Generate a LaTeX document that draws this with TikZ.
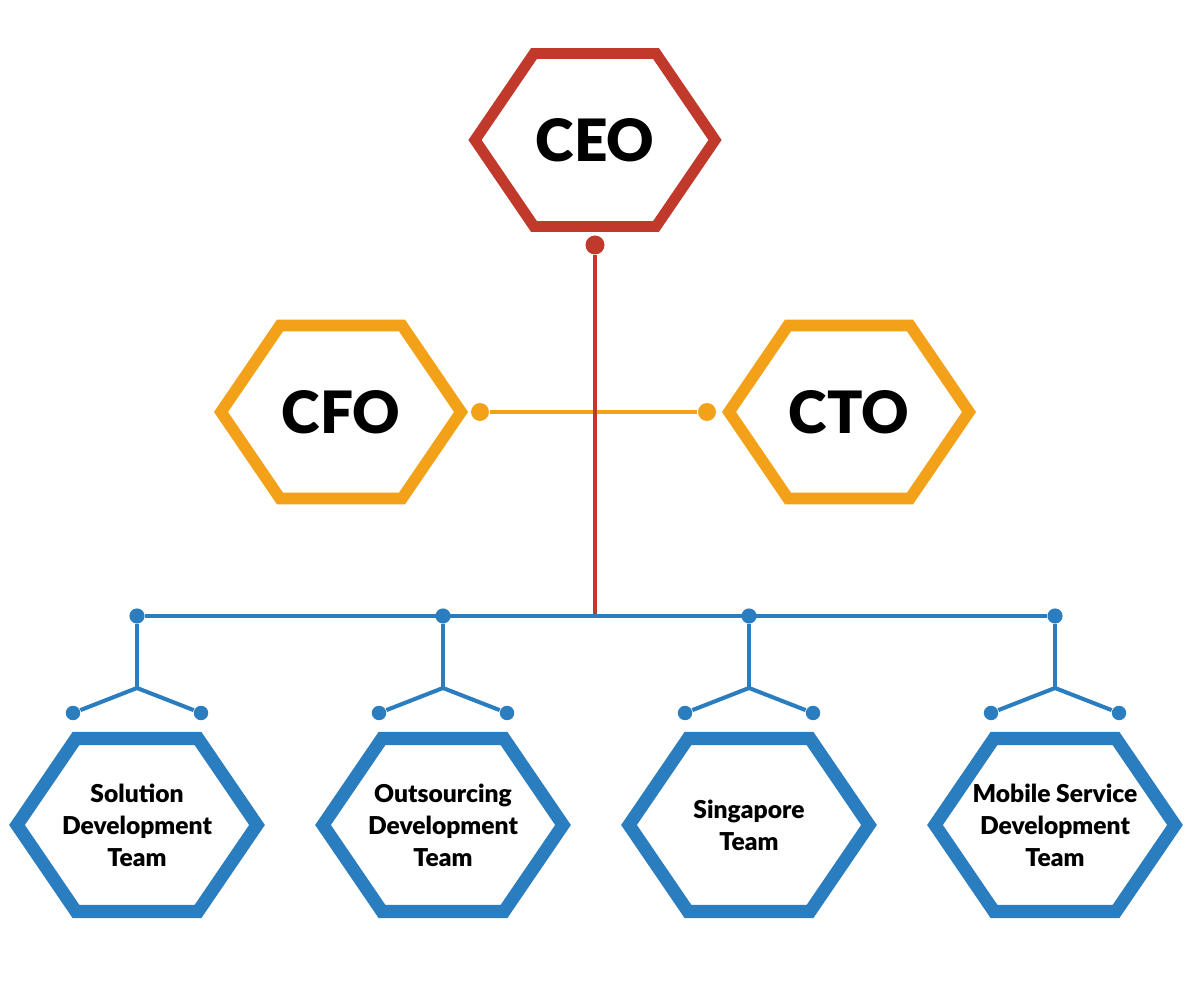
\documentclass[tikz,border=0pt]{standalone}
\usepackage{fontspec}
\setmainfont{Lato}[BoldFont={Lato Black}]
\usepackage{tikz}

\definecolor{ceored}{HTML}{C0392B}
\definecolor{chieforange}{HTML}{F4A11A}
\definecolor{teamblue}{HTML}{2A7DBE}

\begin{document}
\begin{tikzpicture}[x=0.01cm, y=0.01cm,
  hexline/.style={line width=#1, line join=miter},
  chief/.style={font=\bfseries\fontsize{16.6}{20}\selectfont},
  team/.style={font=\bfseries\fontsize{7}{9.1}\selectfont, align=center},
  wire/.style={line width=1.15pt},
  joint/.style={circle, fill, inner sep=0pt, minimum size=#1}]

\useasboundingbox (0,0) rectangle (1200,1000);

  \node[chief] (ceo) at (595,860) {CEO};
  \node[chief] (cfo) at (341,588) {CFO};
  \node[chief] (cto) at (849,588) {CTO};

  \node[team] (t1) at (137,175) {Solution\\Development\\Team};
  \node[team] (t2) at (443,175) {Outsourcing\\Development\\Team};
  \node[team] (t3) at (749,175) {Singapore\\Team};
  \node[team] (t4) at (1055,175) {Mobile Service\\Development\\Team};

% hexagon frames
\foreach \n/\c/\w in {ceo/ceored/3.1pt, cfo/chieforange/3.3pt, cto/chieforange/3.3pt,
    t1/teamblue/3.7pt, t2/teamblue/3.7pt, t3/teamblue/3.7pt, t4/teamblue/3.7pt}
  \draw[hexline=\w, \c, shift={(\n.center)}]
    (-120,0) -- (-61,86.5) -- (61,86.5) -- (120,0) -- (61,-86.5) -- (-61,-86.5) -- cycle;

  % CFO -- CTO
  \node[joint=5.1pt, chieforange] (cfodot) at (480,588) {};
  \node[joint=5.1pt, chieforange] (ctodot) at (707,588) {};
  \draw[wire, chieforange] (cfodot) to (ctodot);

  % CEO down to the teams
  \node[joint=5.4pt, ceored] (ceodot) at (595,755) {};
  \coordinate (busmid) at (595,384);
  \draw[wire, ceored] (ceodot) to (busmid);

\foreach \i/\x in {1/137, 2/443, 3/749, 4/1055} {
  \node[joint=4.3pt, teamblue] (b\i) at (\x,384) {};
  \coordinate (fork\i) at (\x,312);
  \node[joint=4.1pt, teamblue] (bl\i) at (\x-64,287) {};
  \node[joint=4.1pt, teamblue] (br\i) at (\x+64,287) {};
  \draw[wire, teamblue] (b\i) to (fork\i);
  \draw[wire, teamblue] (bl\i) -- (fork\i) -- (br\i);
}
  \draw[wire, teamblue] (b1) to (b4);

\end{tikzpicture}
\end{document}
